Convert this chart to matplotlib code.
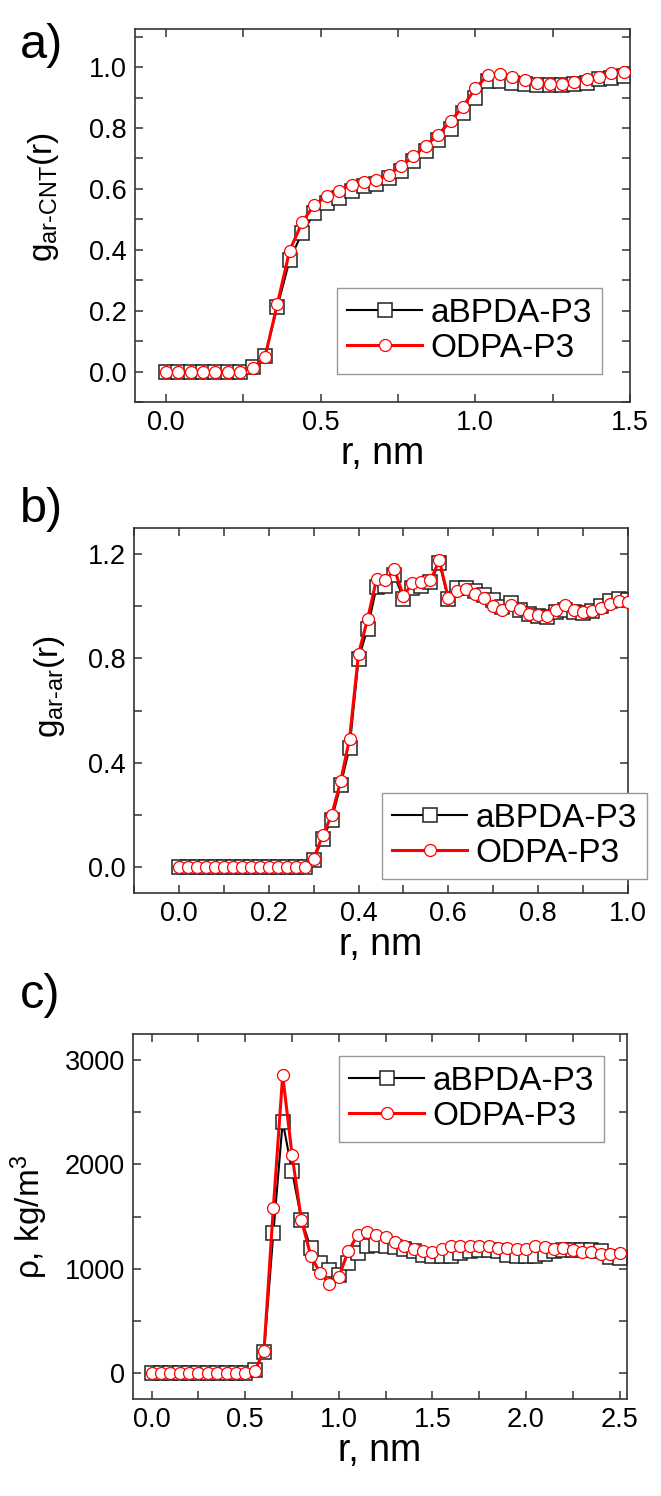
import matplotlib
matplotlib.use('Agg')
import matplotlib.pyplot as plt
import numpy as np
from matplotlib.ticker import MultipleLocator

plt.rcParams['font.family'] = ['Liberation Sans', 'DejaVu Sans']
plt.rcParams['mathtext.fontset'] = 'custom'
plt.rcParams['mathtext.rm'] = 'Liberation Sans'
plt.rcParams['mathtext.it'] = 'Liberation Sans'

# ---------- data ----------
# a) g_ar-CNT(r), step 0.04 nm
r_a = np.round(np.arange(0, 1.50, 0.04), 2)
a_bpda = [0.0, 0.0, 0.0, 0.0, 0.0, 0.0, 0.0, 0.015, 0.05, 0.212,
          0.367, 0.455, 0.521, 0.554, 0.570, 0.592, 0.609, 0.616, 0.636, 0.658,
          0.691, 0.724, 0.762, 0.795, 0.848, 0.899, 0.954, 0.954, 0.949, 0.943,
          0.940, 0.940, 0.940, 0.943, 0.949, 0.960, 0.965, 0.970]
a_odpa = [0.0, 0.0, 0.0, 0.0, 0.0, 0.0, 0.0, 0.011, 0.047, 0.222,
          0.397, 0.490, 0.548, 0.576, 0.594, 0.614, 0.622, 0.628, 0.647, 0.674,
          0.707, 0.742, 0.778, 0.822, 0.870, 0.930, 0.973, 0.978, 0.967, 0.956,
          0.949, 0.945, 0.945, 0.951, 0.960, 0.968, 0.982, 0.985]

# b) g_ar-ar(r), step 0.02 nm
r_b = np.round(np.arange(0, 1.001, 0.02), 2)
b_bpda = [0.0] * 15 + [0.028, 0.109, 0.181, 0.313, 0.458, 0.799, 0.914, 1.074, 1.077,
          1.118, 1.029, 1.071, 1.077, 1.093, 1.166, 1.026, 1.071, 1.071, 1.058,
          1.042, 1.023, 0.997, 1.012, 0.984, 0.971, 0.964, 0.958, 0.978, 0.984,
          0.978, 0.974, 0.980, 1.000, 1.019, 1.029, 1.023]
b_odpa = [0.0] * 15 + [0.032, 0.121, 0.198, 0.328, 0.492, 0.818, 0.950, 1.103, 1.099,
          1.141, 1.039, 1.089, 1.093, 1.099, 1.176, 1.030, 1.058, 1.067, 1.048,
          1.030, 1.000, 0.984, 1.006, 0.991, 0.971, 0.968, 0.961, 0.984, 1.006,
          0.987, 0.978, 0.980, 0.993, 1.010, 1.019, 1.016]

# c) density, step 0.05 nm
r_c = np.round(np.arange(0, 2.501, 0.05), 2)
c_bpda = [0] * 11 + [29, 196, 1343, 2410, 1936, 1471, 1199, 1054, 990, 942,
          1054, 1151, 1215, 1231, 1215, 1205, 1189, 1167, 1135, 1119,
          1119, 1119, 1151, 1167, 1176, 1176, 1167, 1135, 1119, 1119,
          1119, 1141, 1167, 1183, 1183, 1176, 1176, 1167, 1112, 1103]
c_odpa = [0] * 11 + [15, 215, 1583, 2856, 2090, 1465, 1125, 958, 853, 920,
          1167, 1320, 1349, 1327, 1304, 1256, 1215, 1189, 1173, 1160,
          1189, 1215, 1215, 1221, 1215, 1215, 1199, 1199, 1189, 1189,
          1215, 1205, 1192, 1199, 1176, 1160, 1157, 1144, 1144, 1151]

names = ['aBPDA-P3', 'ODPA-P3']

W, H = 661, 1496
fig = plt.figure(figsize=(W / 100, H / 100), dpi=100)


def px_axes(left, top, right, bottom):
    return fig.add_axes([left / W, 1 - bottom / H, (right - left) / W, (bottom - top) / H])


def style(ax, xmaj, xmin, ymaj, ymin):
    ax.xaxis.set_major_locator(MultipleLocator(xmaj))
    ax.xaxis.set_minor_locator(MultipleLocator(xmin))
    ax.yaxis.set_major_locator(MultipleLocator(ymaj))
    ax.yaxis.set_minor_locator(MultipleLocator(ymin))
    ax.tick_params(which='both', direction='in', top=True, right=True,
                   length=6, width=1.1, color='#333333', labelsize=19.5, pad=6)
    for s in ax.spines.values():
        s.set_linewidth(1.2)
        s.set_color('#333333')


def draw(ax, x, y1, y2):
    ax.plot(x, y1, '-', color='black', lw=1.5, marker='s', ms=10.5,
            mfc='white', mec='#222222', mew=1.1, label=names[0], zorder=2)
    ax.plot(x, y2, '-', color='#ff0000', lw=2.2, marker='o', ms=8.6,
            mfc='white', mec='#ff0000', mew=0.9, label=names[1], zorder=3)


def legend(ax, loc, anchor):
    leg = ax.legend(loc=loc, bbox_to_anchor=anchor, fontsize=24, fancybox=False,
                    edgecolor='#999999', framealpha=1, handlelength=2.25,
                    handletextpad=0.25, borderpad=0.3, labelspacing=0.12,
                    borderaxespad=0)
    leg.get_frame().set_linewidth(1.0)


# ---- a) ----
ax1 = px_axes(135, 29, 630, 402)
draw(ax1, r_a, a_bpda, a_odpa)
ax1.set_xlim(-0.1, 1.5)
ax1.set_ylim(-0.1, 1.125)
style(ax1, 0.5, 0.25, 0.2, 0.1)
ax1.set_xlabel('r, nm', fontsize=27, labelpad=0)
ax1.set_ylabel(r'g$_\mathregular{ar\text{-}CNT}$(r)', fontsize=24)
ax1.yaxis.set_label_coords(-0.15, 0.55)
legend(ax1, 'lower right', (0.943, 0.075))

# ---- b) ----
ax2 = px_axes(134, 528, 628, 893)
draw(ax2, r_b, b_bpda, b_odpa)
ax2.set_xlim(-0.1, 1.0)
ax2.set_ylim(-0.1, 1.3)
style(ax2, 0.2, 0.1, 0.4, 0.2)
ax2.set_xlabel('r, nm', fontsize=27, labelpad=0)
ax2.set_ylabel(r'g$_\mathregular{ar\text{-}ar}$(r)', fontsize=24)
ax2.yaxis.set_label_coords(-0.135, 0.565)
legend(ax2, 'lower right', (1.038, 0.038))

# ---- c) ----
ax3 = px_axes(133, 1034, 627, 1399)
draw(ax3, r_c, c_bpda, c_odpa)
ax3.set_xlim(-0.1, 2.54)
ax3.set_ylim(-250, 3250)
style(ax3, 0.5, 0.25, 1000, 500)
ax3.set_xlabel('r, nm', fontsize=27, labelpad=0)
ax3.set_ylabel(r'ρ, kg/m$^\mathregular{3}$', fontsize=24)
ax3.yaxis.set_label_coords(-0.168, 0.5)
legend(ax3, 'upper right', (0.953, 0.94))

# panel letters
for lab, yb in [('a)', 58), ('b)', 522), ('c)', 1008)]:
    fig.text(20 / W, 1 - yb / H, lab, fontsize=35, va='baseline', ha='left')

fig.savefig('out.png', dpi=100)
